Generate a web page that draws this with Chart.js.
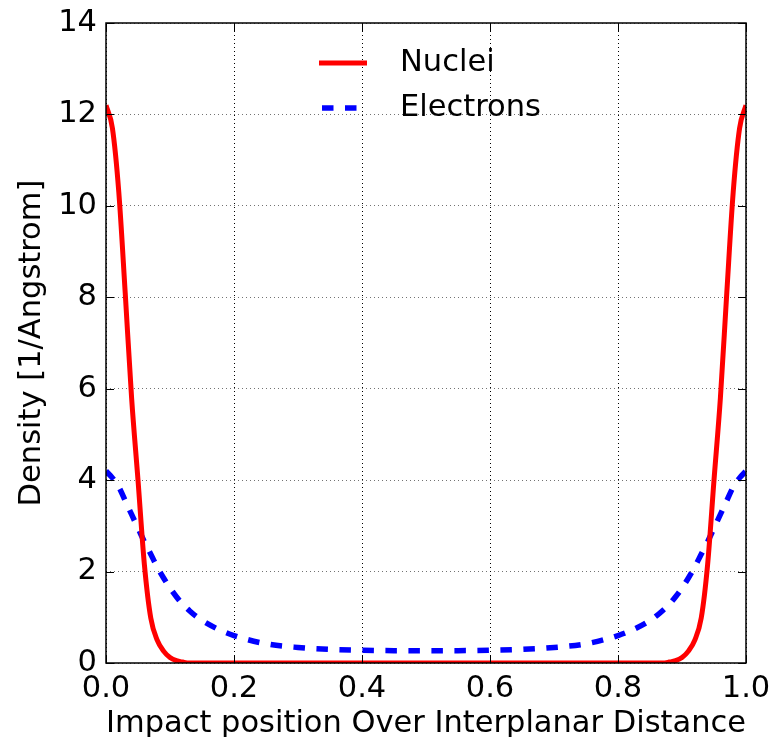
<!DOCTYPE html>
<html>
<head>
<meta charset="utf-8">
<script src="https://cdn.jsdelivr.net/npm/chart.js@4/dist/chart.umd.min.js"></script>
<style>
  html, body { margin: 0; padding: 0; background: #fff; }
  #wrap { width: 781px; height: 737px; }
</style>
</head>
<body>
<div id="wrap"><canvas id="c" width="781" height="737"></canvas></div>
<script>
// Impact position over interplanar distance
const positions = [0, 0.01, 0.02, 0.03, 0.04, 0.05, 0.06, 0.07, 0.08, 0.09, 0.10, 0.11, 0.12, 0.13, 0.14, 0.15,
  0.175, 0.2, 0.25, 0.3, 0.35, 0.4, 0.45, 0.5, 0.55, 0.6, 0.65, 0.7, 0.75, 0.8, 0.825,
  0.85, 0.86, 0.87, 0.88, 0.89, 0.90, 0.91, 0.92, 0.93, 0.94, 0.95, 0.96, 0.97, 0.98, 0.99, 1.0];

// Density [1/Angstrom]
const nuclei = [12.2, 11.7, 10.3, 8.1, 5.8, 4.0, 2.15, 0.98, 0.5, 0.26, 0.12, 0.05, 0.02, 0, 0, 0,
  0, 0, 0, 0, 0, 0, 0, 0, 0, 0, 0, 0, 0, 0, 0,
  0, 0, 0, 0.02, 0.05, 0.12, 0.26, 0.5, 0.98, 2.15, 4.0, 5.8, 8.1, 10.3, 11.7, 12.2];

const electrons = [4.2, 4.05, 3.85, 3.55, 3.25, 2.95, 2.65, 2.38, 2.1, 1.86, 1.64, 1.45, 1.28, 1.15, 1.03, 0.93,
  0.74, 0.6, 0.42, 0.34, 0.3, 0.28, 0.27, 0.27, 0.27, 0.28, 0.3, 0.34, 0.42, 0.6, 0.74,
  0.93, 1.03, 1.15, 1.28, 1.45, 1.64, 1.86, 2.1, 2.38, 2.65, 2.95, 3.25, 3.55, 3.85, 4.05, 4.2];

const seriesLabels = ['Nuclei', 'Electrons'];
const xTicks = [0, 0.2, 0.4, 0.6, 0.8, 1.0];
const yTicks = [0, 2, 4, 6, 8, 10, 12, 14];
const xTitle = 'Impact position Over Interplanar Distance';
const yTitle = 'Density [1/Angstrom]';

const FONT = 'DejaVu Sans';
const FS = 30.5;

const toPts = (ys) => positions.map((x, i) => ({x: x, y: ys[i]}));

const frameTicks = {
  id: 'frameTicks',
  afterDraw(chart) {
    const {ctx, chartArea: a, scales} = chart;
    ctx.save();
    ctx.strokeStyle = '#000';
    ctx.lineWidth = 1.5;
    ctx.setLineDash([]);
    ctx.strokeRect(a.left, a.top, a.right - a.left, a.bottom - a.top);
    const L = 8;
    ctx.beginPath();
    xTicks.forEach(v => {
      const px = Math.round(scales.x.getPixelForValue(v)) + 0.5;
      ctx.moveTo(px, a.bottom); ctx.lineTo(px, a.bottom - L);
      ctx.moveTo(px, a.top); ctx.lineTo(px, a.top + L);
    });
    yTicks.forEach(v => {
      const py = Math.round(scales.y.getPixelForValue(v)) + 0.5;
      ctx.moveTo(a.left, py); ctx.lineTo(a.left + L, py);
      ctx.moveTo(a.right, py); ctx.lineTo(a.right - L, py);
    });
    ctx.lineWidth = 1;
    ctx.stroke();

    // legend inside the plot area
    const ds = chart.data.datasets;
    const hx = a.left + 213, hw = 48, tx = a.left + 294;
    const rows = [a.top + 40, a.top + 85];
    ds.forEach((d, i) => {
      const y = rows[i];
      ctx.beginPath();
      ctx.strokeStyle = d.borderColor;
      ctx.lineWidth = d.borderWidth;
      ctx.lineCap = 'butt';
      ctx.setLineDash(d.borderDash || []);
      ctx.lineDashOffset = d.borderDash ? -3 : 0;
      ctx.moveTo(hx, y); ctx.lineTo(hx + hw, y);
      ctx.stroke();
      ctx.setLineDash([]);
      ctx.fillStyle = '#000';
      ctx.font = FS + 'px "' + FONT + '"';
      ctx.textBaseline = 'middle';
      ctx.textAlign = 'left';
      ctx.fillText(d.label, tx, y);
    });
    ctx.restore();
  }
};

new Chart(document.getElementById('c'), {
  type: 'line',
  data: {
    datasets: [
      {
        label: seriesLabels[0],
        data: toPts(nuclei),
        borderColor: '#ff0000',
        backgroundColor: '#ff0000',
        borderWidth: 5,
        pointRadius: 0,
        fill: false,
        cubicInterpolationMode: 'monotone'
      },
      {
        label: seriesLabels[1],
        data: toPts(electrons),
        borderColor: '#0000ff',
        backgroundColor: '#0000ff',
        borderWidth: 5.5,
        borderDash: [11.5, 11.5],
        borderCapStyle: 'butt',
        pointRadius: 0,
        fill: false,
        cubicInterpolationMode: 'monotone'
      }
    ]
  },
  options: {
    responsive: false,
    animation: false,
    devicePixelRatio: 1,
    layout: { padding: { top: 23, right: 35, bottom: 0, left: 0 } },
    plugins: {
      legend: { display: false },
      tooltip: { enabled: false },
      title: { display: false }
    },
    scales: {
      x: {
        type: 'linear',
        min: 0, max: 1,
        afterBuildTicks: (s) => { s.ticks = xTicks.map(v => ({value: v})); },
        afterFit: (s) => { s.height = 74; s.paddingLeft = 0; s.paddingRight = 0; },
        ticks: {
          color: '#000',
          font: { family: FONT, size: FS },
          padding: 8,
          maxRotation: 0,
          callback: (v) => Number(v).toFixed(1)
        },
        grid: { color: '#000', lineWidth: 1, drawTicks: false },
        border: { display: false, dash: [1, 3] },
        title: {
          display: true,
          text: xTitle,
          color: '#000',
          font: { family: FONT, size: FS },
          padding: { top: 0, bottom: -5 }
        }
      },
      y: {
        type: 'linear',
        min: 0, max: 14,
        afterBuildTicks: (s) => { s.ticks = yTicks.map(v => ({value: v})); },
        afterFit: (s) => { s.width = 106; s.paddingTop = 0; s.paddingBottom = 0; },
        ticks: {
          color: '#000',
          font: { family: FONT, size: FS },
          padding: 9,
          callback: (v) => String(v)
        },
        grid: { color: 'rgba(0,0,0,0.55)', lineWidth: 1, drawTicks: false },
        border: { display: false, dash: [1, 3] },
        title: {
          display: true,
          text: yTitle,
          color: '#000',
          font: { family: FONT, size: FS },
          padding: { top: 14, bottom: 0 }
        }
      }
    }
  },
  plugins: [frameTicks]
});
</script>
</body>
</html>
